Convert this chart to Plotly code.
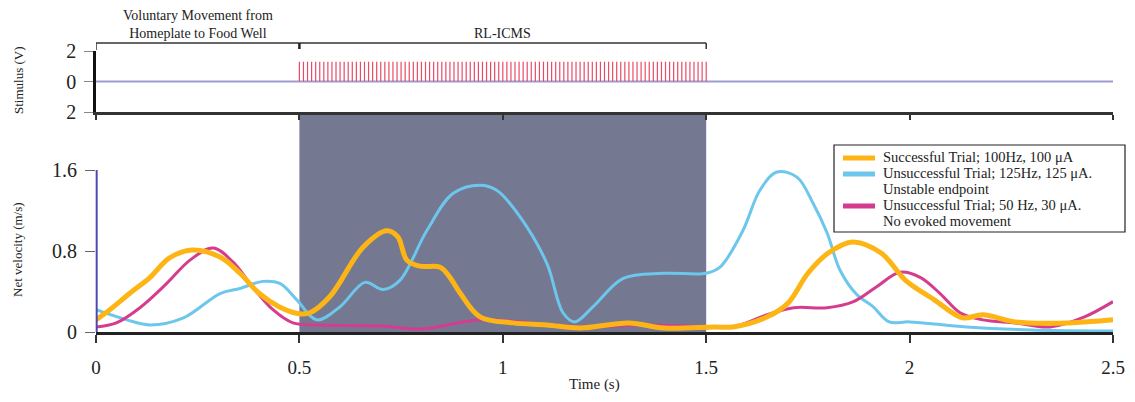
import plotly.graph_objects as go

# ---- data -------------------------------------------------------------
# Successful trial; 100 Hz, 100 uA
succ_t = [0, 0.034, 0.084, 0.133, 0.18, 0.236, 0.305, 0.354, 0.40, 0.45, 0.50,
          0.526, 0.575, 0.657, 0.715, 0.742, 0.764, 0.796, 0.846, 0.87, 0.895,
          0.944, 1.025, 1.108, 1.19, 1.31, 1.395, 1.52, 1.566, 1.65, 1.70, 1.75,
          1.80, 1.86, 1.93, 1.99, 2.06, 2.13, 2.18, 2.26, 2.39, 2.5]
succ_v = [0.12, 0.22, 0.385, 0.54, 0.73, 0.81, 0.74, 0.58, 0.385, 0.25, 0.18,
          0.19, 0.35, 0.84, 1.0, 0.94, 0.71, 0.65, 0.64, 0.54, 0.385,
          0.15, 0.09, 0.07, 0.04, 0.09, 0.04, 0.05, 0.05, 0.15, 0.28, 0.58,
          0.78, 0.89, 0.78, 0.51, 0.32, 0.14, 0.17, 0.10, 0.09, 0.12]

# Unsuccessful trial; 125 Hz, 125 uA (unstable endpoint)
unst_t = [0, 0.076, 0.133, 0.215, 0.305, 0.354, 0.41, 0.452, 0.493, 0.543, 0.6,
          0.661, 0.706, 0.747, 0.813, 0.878, 0.944, 0.985, 1.042, 1.108, 1.148,
          1.177, 1.222, 1.296, 1.394, 1.50, 1.534, 1.59, 1.632, 1.674, 1.723,
          1.763, 1.797, 1.829, 1.87, 1.91, 1.95, 2.0, 2.14, 2.30, 2.5]
unst_v = [0.22, 0.12, 0.07, 0.14, 0.38, 0.43, 0.50, 0.48, 0.32, 0.12, 0.25,
          0.49, 0.42, 0.51, 1.0, 1.37, 1.45, 1.40, 1.14, 0.68, 0.19,
          0.10, 0.25, 0.53, 0.58, 0.58, 0.64, 1.0, 1.40, 1.58, 1.53,
          1.27, 0.98, 0.61, 0.37, 0.25, 0.10, 0.10, 0.05, 0.02, 0.01]

# Unsuccessful trial; 50 Hz, 30 uA (no evoked movement)
noev_t = [0, 0.05, 0.108, 0.174, 0.231, 0.288, 0.337, 0.386, 0.435, 0.484, 0.55,
          0.70, 0.80, 0.944, 1.07, 1.2, 1.35, 1.5, 1.566, 1.65, 1.715, 1.797,
          1.862, 1.92, 1.976, 2.026, 2.075, 2.124, 2.18, 2.26, 2.345, 2.43, 2.5]
noev_v = [0.05, 0.09, 0.24, 0.48, 0.71, 0.83, 0.69, 0.44, 0.22, 0.09, 0.07,
          0.06, 0.03, 0.12, 0.09, 0.05, 0.07, 0.05, 0.05, 0.17, 0.24, 0.24,
          0.30, 0.45, 0.59, 0.54, 0.38, 0.19, 0.12, 0.09, 0.05, 0.15, 0.30]

# legend text, one list of lines per series
succ_label = ["Successful Trial; 100Hz, 100 μA"]
unst_label = ["Unsuccessful Trial; 125Hz, 125 μA.", "Unstable endpoint"]
noev_label = ["Unsuccessful Trial; 50 Hz, 30 μA.", "No evoked movement"]

# stimulation window and pulse train
stim_start, stim_end = 0.5, 1.5
stim_rate_hz = 100
pulse_amp = 1.3
time_ticks = [0, 0.5, 1, 1.5, 2, 2.5]
time_labels = ["0", "0.5", "1", "1.5", "2", "2.5"]
vel_ticks = [0, 0.8, 1.6]
vel_labels = ["0", "0.8", "1.6"]
stim_ticks = [-2, 0, 2]
stim_labels = ["2", "0", "2"]

# ---- geometry (pixels -> paper fractions) ------------------------------
W, H = 1135, 402
def px(x):
    return x / W
def py(y):
    return 1 - y / H

x_dom = [px(96), px(1113)]
vel_top = 1.6 * (332 - 113) / (332 - 170)

SERIF = "Liberation Serif, Times New Roman, serif"
ORANGE = "#FDB515"
BLUE = "#6DC6EC"
MAGENTA = "#D63C8E"
SHADE = "#747891"

fig = go.Figure()

# pulse train
n_pulses = int(round((stim_end - stim_start) * stim_rate_hz)) + 1
px_list, py_list = [], []
for k in range(n_pulses):
    t = stim_start + k / stim_rate_hz
    px_list += [t, t, None]
    py_list += [0, pulse_amp, None]

fig.add_trace(go.Scatter(x=[0, 2.5], y=[0, 0], mode="lines",
                         line=dict(color="#9C9CD2", width=2),
                         xaxis="x2", yaxis="y2", showlegend=False, hoverinfo="skip"))
fig.add_trace(go.Scatter(x=px_list, y=py_list, mode="lines",
                         line=dict(color="#EA4A66", width=1.2),
                         xaxis="x2", yaxis="y2", showlegend=False, hoverinfo="skip"))

# velocity traces (orange drawn last, on top)
series = [
    (unst_t, unst_v, BLUE, 3, unst_label),
    (noev_t, noev_v, MAGENTA, 3, noev_label),
    (succ_t, succ_v, ORANGE, 5, succ_label),
]
for t, v, col, w, label in series:
    fig.add_trace(go.Scatter(x=t, y=v, mode="lines", name=" ".join(label),
                             line=dict(color=col, width=w, shape="spline", smoothing=1.0),
                             showlegend=False))

shapes = [
    # stimulation period shading
    dict(type="rect", xref="x", yref="y", x0=stim_start, x1=stim_end,
         y0=0, y1=vel_top, fillcolor=SHADE, line=dict(width=0), layer="below"),
    # velocity axis line
    dict(type="line", xref="paper", yref="y", x0=x_dom[0] + 0.0006, x1=x_dom[0] + 0.0006,
         y0=0, y1=1.6, line=dict(color="#4A4AB2", width=2)),
    # brackets above the stimulus panel
    dict(type="line", xref="x2", yref="paper", x0=0, x1=stim_start,
         y0=py(43), y1=py(43), line=dict(color="#333", width=1.5)),
    dict(type="line", xref="x2", yref="paper", x0=0, x1=0,
         y0=py(43), y1=py(50), line=dict(color="#333", width=1.5)),
    dict(type="line", xref="x2", yref="paper", x0=stim_start, x1=stim_end,
         y0=py(43), y1=py(43), line=dict(color="#333", width=1.5)),
    dict(type="line", xref="x2", yref="paper", x0=stim_start, x1=stim_start,
         y0=py(43), y1=py(49), line=dict(color="#222", width=2.5)),
    dict(type="line", xref="x2", yref="paper", x0=stim_end, x1=stim_end,
         y0=py(43), y1=py(49), line=dict(color="#333", width=1.5)),
]

annotations = [
    dict(text="Voluntary Movement from<br>Homeplate to Food Well", xref="x2", yref="paper",
         x=0.25, y=py(25), showarrow=False, font=dict(family=SERIF, size=14, color="#222"),
         xanchor="center", yanchor="middle"),
    dict(text="RL-ICMS", xref="x2", yref="paper", x=1.0, y=py(33), showarrow=False,
         font=dict(family=SERIF, size=14, color="#222"), xanchor="center", yanchor="middle"),
    dict(text="Stimulus (V)", xref="paper", yref="paper", x=px(18), y=py(80),
         textangle=-90, showarrow=False, font=dict(family=SERIF, size=13, color="#222"),
         xanchor="center", yanchor="middle"),
    dict(text="Net velocity (m/s)", xref="paper", yref="paper", x=px(18), y=py(250),
         textangle=-90, showarrow=False, font=dict(family=SERIF, size=13, color="#222"),
         xanchor="center", yanchor="middle"),
    dict(text="Time (s)", xref="paper", yref="paper", x=px(594), y=py(384),
         showarrow=False, font=dict(family=SERIF, size=15, color="#222"),
         xanchor="center", yanchor="middle"),
]

# legend box
leg_left, leg_top, leg_right, leg_bottom = 834, 145, 1125, 232
line_step = 16
first_line = 157
shapes.append(dict(type="rect", xref="paper", yref="paper",
                   x0=px(leg_left), x1=px(leg_right), y0=py(leg_bottom), y1=py(leg_top),
                   fillcolor="white", line=dict(color="#222", width=1.2), layer="above"))
row = 0
for _, _, col, _, label in [series[2], series[0], series[1]]:
    ys = first_line + row * line_step + 1
    shapes.append(dict(type="line", xref="paper", yref="paper",
                       x0=px(843), x1=px(875), y0=py(ys), y1=py(ys),
                       line=dict(color=col, width=5), layer="above"))
    for line_text in label:
        yc = first_line + row * line_step
        annotations.append(dict(text=line_text, xref="paper", yref="paper",
                                x=px(881), y=py(yc), showarrow=False,
                                xanchor="left", yanchor="middle",
                                font=dict(family=SERIF, size=14.5, color="#222")))
        row += 1

fig.update_layout(
    width=W, height=H,
    margin=dict(l=0, r=0, t=0, b=0),
    plot_bgcolor="white", paper_bgcolor="white",
    font=dict(family=SERIF, color="#222"),
    shapes=shapes, annotations=annotations,
    showlegend=False,
    xaxis=dict(domain=x_dom, range=[0, 2.5], anchor="y", automargin=False,
               showgrid=False, zeroline=False, showline=True, linecolor="#222", linewidth=3,
               ticks="outside", ticklen=8, tickwidth=1.5, tickcolor="#333",
               tickvals=time_ticks, ticktext=time_labels, ticklabelstandoff=8,
               tickfont=dict(family=SERIF, size=19, color="#222")),
    yaxis=dict(domain=[py(332), py(113)], range=[0, vel_top], anchor="x", automargin=False,
               showgrid=False, zeroline=False, showline=False,
               ticks="outside", ticklen=10, tickwidth=1.2, tickcolor="#666",
               tickvals=vel_ticks, ticktext=vel_labels, ticklabelstandoff=4,
               tickfont=dict(family=SERIF, size=20, color="#222")),
    xaxis2=dict(domain=x_dom, range=[0, 2.5], anchor="y2", automargin=False,
                showgrid=False, zeroline=False, showline=True, linecolor="#333", linewidth=2.5,
                ticks="outside", ticklen=5, tickwidth=1.5, tickcolor="#333",
                tickvals=time_ticks, showticklabels=False),
    yaxis2=dict(domain=[py(112), py(51)], range=[-2, 2], anchor="x2", automargin=False,
                showgrid=False, zeroline=False, showline=True, linecolor="#111", linewidth=2.5,
                ticks="outside", ticklen=9, tickwidth=1.2, tickcolor="#888",
                tickvals=stim_ticks, ticktext=stim_labels, ticklabelstandoff=4,
                tickfont=dict(family=SERIF, size=20, color="#222")),
)

fig.write_html("out.html")
